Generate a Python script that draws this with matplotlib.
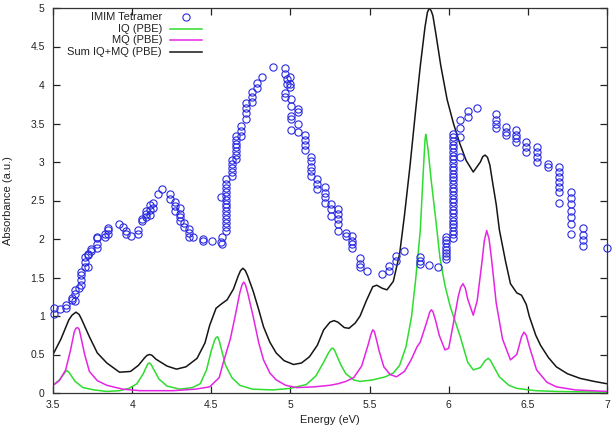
import matplotlib
matplotlib.use("Agg")
import matplotlib.pyplot as plt

plt.rcParams['font.family'] = ['Liberation Sans', 'DejaVu Sans']

# ---------------- data ----------------
# IQ (PBE) curve
iq_energy = [3.50, 3.54, 3.57, 3.58, 3.59, 3.60, 3.61, 3.64, 3.69, 3.76, 3.84, 3.92, 3.98,
             4.03, 4.07, 4.09, 4.10, 4.11, 4.12, 4.13, 4.17, 4.22, 4.30, 4.38, 4.43, 4.47,
             4.50, 4.52, 4.53, 4.54, 4.55, 4.56, 4.59, 4.63, 4.68, 4.76, 4.89, 5.00, 5.10,
             5.16, 5.21, 5.24, 5.26, 5.27, 5.28, 5.29, 5.32, 5.35, 5.40, 5.44, 5.52, 5.60,
             5.65, 5.69, 5.73, 5.765, 5.79, 5.82, 5.84, 5.85, 5.855, 5.86, 5.87, 5.89, 5.92,
             5.945, 5.976, 6.01, 6.07, 6.12, 6.155, 6.20, 6.23, 6.25, 6.265, 6.28, 6.32,
             6.38, 6.43, 6.55, 6.68, 7.00]
iq_abs = [0.10, 0.17, 0.25, 0.28, 0.29, 0.27, 0.24, 0.15, 0.07, 0.04, 0.02, 0.03, 0.06,
          0.12, 0.25, 0.34, 0.38, 0.39, 0.37, 0.33, 0.18, 0.09, 0.05, 0.07, 0.12, 0.30,
          0.55, 0.68, 0.72, 0.73, 0.68, 0.60, 0.36, 0.20, 0.10, 0.05, 0.04, 0.06, 0.11,
          0.22, 0.40, 0.52, 0.58, 0.58, 0.55, 0.50, 0.36, 0.25, 0.17, 0.15, 0.17, 0.21,
          0.26, 0.36, 0.60, 0.99, 1.45, 2.10, 2.90, 3.28, 3.36, 3.30, 3.15, 2.75, 2.22,
          1.75, 1.40, 1.12, 0.75, 0.40, 0.30, 0.33, 0.42, 0.45, 0.42, 0.36, 0.21,
          0.10, 0.06, 0.03, 0.02, 0.01]

# MQ (PBE) curve
mq_energy = [3.50, 3.54, 3.58, 3.61, 3.635, 3.645, 3.655, 3.665, 3.675, 3.70, 3.73, 3.78,
             3.84, 3.94, 4.05, 4.26, 4.40, 4.49, 4.55, 4.575, 4.62, 4.65, 4.68, 4.695,
             4.705, 4.715, 4.73, 4.765, 4.80, 4.83, 4.87, 4.91, 4.97, 5.04, 5.15, 5.25,
             5.30, 5.35, 5.40, 5.45, 5.49, 5.51, 5.52, 5.53, 5.545, 5.56, 5.59, 5.63, 5.67,
             5.72, 5.76, 5.80, 5.82, 5.85, 5.87, 5.88, 5.89, 5.90, 5.92, 5.94, 5.976,
             6.00, 6.03, 6.06, 6.075, 6.09, 6.105, 6.12, 6.155, 6.18, 6.21, 6.225, 6.24,
             6.255, 6.27, 6.30, 6.34, 6.39, 6.43, 6.46, 6.475, 6.49, 6.51, 6.555, 6.62,
             6.68, 6.80, 7.00]
mq_abs = [0.10, 0.16, 0.30, 0.55, 0.80, 0.84, 0.85, 0.83, 0.74, 0.50, 0.28, 0.16,
          0.10, 0.05, 0.03, 0.03, 0.05, 0.08, 0.20, 0.39, 0.70, 0.99, 1.30, 1.41,
          1.44, 1.41, 1.30, 0.99, 0.65, 0.43, 0.26, 0.17, 0.10, 0.07, 0.08, 0.10,
          0.12, 0.15, 0.20, 0.35, 0.62, 0.77, 0.82, 0.80, 0.68, 0.55, 0.34, 0.24, 0.21,
          0.28, 0.42, 0.60, 0.66, 0.85, 0.98, 1.05, 1.08, 1.06, 0.92, 0.75, 0.56,
          0.58, 0.91, 1.25, 1.37, 1.42, 1.36, 1.22, 1.01, 1.20, 1.70, 1.98, 2.11,
          2.00, 1.75, 1.17, 0.70, 0.43, 0.50, 0.73, 0.79, 0.75, 0.60, 0.30, 0.14,
          0.08, 0.04, 0.02]

# Sum IQ+MQ (PBE) curve
sum_energy = [3.50, 3.55, 3.60, 3.62, 3.645, 3.665, 3.68, 3.73, 3.78, 3.84, 3.92, 3.99,
              4.04, 4.08, 4.095, 4.11, 4.125, 4.15, 4.22, 4.28, 4.34, 4.41, 4.46, 4.49,
              4.53, 4.566, 4.60, 4.64, 4.67, 4.685, 4.70, 4.715, 4.73, 4.765, 4.80, 4.83,
              4.87, 4.91, 4.96, 5.02, 5.07, 5.12, 5.17, 5.21, 5.25, 5.275, 5.30, 5.34,
              5.37, 5.41, 5.44, 5.48, 5.52, 5.545, 5.58, 5.61, 5.65, 5.69, 5.72, 5.755,
              5.79, 5.82, 5.85, 5.865, 5.877, 5.89, 5.90, 5.92, 5.95, 5.99, 6.03, 6.07,
              6.11, 6.155, 6.20, 6.215, 6.23, 6.245, 6.26, 6.28, 6.30, 6.32, 6.36, 6.39,
              6.43, 6.46, 6.49, 6.51, 6.55, 6.58, 6.63, 6.68, 6.75, 6.83, 6.92, 7.00]
sum_abs = [0.50, 0.70, 0.95, 1.01, 1.05, 1.02, 0.96, 0.73, 0.52, 0.39, 0.27, 0.28,
           0.36, 0.46, 0.49, 0.50, 0.49, 0.44, 0.35, 0.31, 0.34, 0.45, 0.65, 0.88,
           1.10, 1.16, 1.21, 1.35, 1.52, 1.59, 1.62, 1.59, 1.52, 1.32, 1.08, 0.86,
           0.66, 0.52, 0.42, 0.37, 0.39, 0.47, 0.62, 0.82, 0.92, 0.94, 0.92, 0.85,
           0.84, 0.91, 1.00, 1.20, 1.38, 1.40, 1.36, 1.34, 1.45, 1.81, 2.30, 2.94,
           3.65, 4.24, 4.75, 4.94, 5.00, 4.96, 4.90, 4.65, 4.25, 3.81, 3.50, 3.24,
           3.02, 2.87, 3.00, 3.07, 3.09, 3.06, 2.96, 2.70, 2.45, 2.12, 1.70, 1.42,
           1.30, 1.27, 1.15, 0.99, 0.75, 0.62, 0.46, 0.34, 0.25, 0.19, 0.15, 0.12]

# IMIM Tetramer experimental points (energy, absorbance)
exp_energy = (
    [3.506] * 2 + [3.544] + [3.58] * 2 + [3.62] * 2 + [3.64] * 3 + [3.666] + [3.68] * 4 +
    [3.70] * 3 + [3.72] * 3 + [3.74] * 2 + [3.78] * 4 + [3.83] * 2 + [3.85] * 3 + [3.917] +
    [3.94] + [3.96] * 2 + [3.99] + [4.04] * 2 + [4.06] * 2 + [4.09] * 3 + [4.11] * 3 +
    [4.13] * 2 + [4.165] + [4.19] + [4.24] * 2 + [4.27] * 3 + [4.30] * 4 + [4.33] * 2 +
    [4.36] * 3 + [4.386] + [4.45] * 2 + [4.506] + [4.56] * 2 + [4.57] * 2 + [4.59] * 14 +
    [4.63] * 5 + [4.656] * 7 + [4.685] * 3 + [4.72] * 4 + [4.755] * 3 + [4.79] * 2 +
    [4.82] + [4.888] + [4.966] * 4 + [4.976] * 2 + [5.00] * 3 + [5.006] * 5 + [5.048] * 4 +
    [5.09] * 4 + [5.128] * 5 + [5.17] * 3 + [5.218] * 4 + [5.256] * 3 + [5.30] * 5 +
    [5.35] * 2 + [5.39] * 4 + [5.44] * 3 + [5.485] + [5.576] + [5.625] * 2 + [5.67] * 2 +
    [5.72] + [5.82] * 3 + [5.875] + [5.93] + [5.98] * 8 + [6.025] * 30 + [6.07] * 4 +
    [6.124] * 2 + [6.176] + [6.296] * 4 + [6.36] * 3 + [6.425] * 4 + [6.49] * 3 +
    [6.557] * 4 + [6.625] * 2 + [6.694] * 7 + [6.77] * 7 + [6.848] * 4 + [7.0]
)
exp_abs = (
    [1.10, 1.03] + [1.09] + [1.11, 1.14] + [1.21, 1.24] + [1.19, 1.29, 1.34] + [1.37] +
    [1.40, 1.47, 1.53, 1.57] + [1.63, 1.70, 1.76] + [1.79, 1.81, 1.64] + [1.84, 1.87] +
    [1.88, 1.94, 2.01, 2.03] + [2.03, 2.07] + [2.07, 2.12, 2.14] + [2.20] + [2.16] +
    [2.11, 2.06] + [2.04] + [2.07, 2.12] + [2.23, 2.26] + [2.29, 2.33, 2.37] +
    [2.44, 2.38, 2.31] + [2.47, 2.40] + [2.58] + [2.65] + [2.58, 2.52] + [2.48, 2.43, 2.37] +
    [2.40, 2.33, 2.28, 2.23] + [2.21, 2.16] + [2.13, 2.08, 2.03] + [2.02] + [2.00, 1.97] +
    [1.97] + [2.54, 1.96] + [2.02, 1.94] +
    [2.10, 2.16, 2.21, 2.26, 2.31, 2.36, 2.41, 2.46, 2.51, 2.56, 2.61, 2.66, 2.72, 2.78] +
    [2.82, 2.87, 2.92, 2.97, 3.03] + [3.04, 3.09, 3.14, 3.19, 3.24, 3.29, 3.34] +
    [3.34, 3.40, 3.47] + [3.56, 3.63, 3.70, 3.76] + [3.78, 3.85, 3.91] + [3.96, 4.02] +
    [4.10] + [4.24] + [4.22, 4.14, 3.89, 3.85] + [4.08, 4.01] + [4.10, 4.01, 3.97] +
    [3.82, 3.73, 3.60, 3.56, 3.41] + [3.69, 3.65, 3.50, 3.39] + [3.35, 3.29, 3.22, 3.16] +
    [3.07, 3.01, 2.94, 2.88, 2.82] + [2.78, 2.71, 2.65] + [2.68, 2.60, 2.54, 2.47] +
    [2.45, 2.39, 2.30] + [2.39, 2.32, 2.26, 2.19, 2.10] + [2.08, 2.04] +
    [2.04, 1.97, 1.94, 1.88] + [1.75, 1.68, 1.64] + [1.59] + [1.55] + [1.65, 1.58] +
    [1.78, 1.72] + [1.84] + [1.76, 1.72, 1.68] + [1.66] + [1.63] +
    [1.74, 1.78, 1.82, 1.86, 1.90, 1.95, 1.99, 2.03] +
    [2.01, 2.06, 2.10, 2.15, 2.20, 2.24, 2.29, 2.34, 2.38, 2.43, 2.48, 2.52, 2.57, 2.62,
     2.66, 2.71, 2.76, 2.80, 2.85, 2.90, 2.94, 2.99, 3.04, 3.08, 3.13, 3.18, 3.22, 3.27,
     3.32, 3.37] +
    [3.06, 3.33, 3.44, 3.55] + [3.66, 3.59] + [3.70] + [3.62, 3.55, 3.49, 3.44] +
    [3.46, 3.39, 3.35] + [3.42, 3.35, 3.31, 3.26] + [3.26, 3.20, 3.13] +
    [3.20, 3.13, 3.07, 3.00] + [2.98, 2.94] + [2.94, 2.87, 2.81, 2.74, 2.68, 2.61, 2.47] +
    [2.61, 2.53, 2.45, 2.37, 2.29, 2.20, 2.07] + [2.14, 2.05, 1.99, 1.91] + [1.88]
)

x_ticks = [3.5, 4, 4.5, 5, 5.5, 6, 6.5, 7]
x_tick_labels = ["3.5", "4", "4.5", "5", "5.5", "6", "6.5", "7"]
y_ticks = [0, 0.5, 1, 1.5, 2, 2.5, 3, 3.5, 4, 4.5, 5]
y_tick_labels = ["0", "0.5", "1", "1.5", "2", "2.5", "3", "3.5", "4", "4.5", "5"]
legend_labels = ["IMIM Tetramer", "IQ (PBE)", "MQ (PBE)", "Sum IQ+MQ (PBE)"]

# ---------------- figure ----------------
fig = plt.figure(figsize=(6.15, 4.26), dpi=100)
ax = fig.add_axes([53 / 615, 33 / 426, 554 / 615, 385 / 426])

blue = '#2a2ae0'
green = '#2fdc2f'
magenta = '#e425e4'
black = '#151515'
msize = 5.2

ax.plot(exp_energy, exp_abs, linestyle='none', marker='o', markersize=msize,
        markerfacecolor='none', markeredgecolor=blue, markeredgewidth=0.8,
        clip_on=False, zorder=3)
ax.plot(iq_energy, iq_abs, color=green, lw=1.1, zorder=2)
ax.plot(mq_energy, mq_abs, color=magenta, lw=1.1, zorder=2)
ax.plot(sum_energy, sum_abs, color=black, lw=1.1, zorder=2)

ax.set_xlim(3.5, 7)
ax.set_ylim(0, 5)
ax.set_xticks(x_ticks)
ax.set_xticklabels(x_tick_labels)
ax.set_yticks(y_ticks)
ax.set_yticklabels(y_tick_labels)
ax.tick_params(direction='in', length=5, width=0.9, top=True, right=True,
               labelsize=7.5, colors='#222222')
ax.tick_params(axis='x', pad=5)
ax.tick_params(axis='y', pad=6)
for s in ax.spines.values():
    s.set_linewidth(0.9)
    s.set_color('#333333')

ax.set_xlabel("Energy (eV)", fontsize=8, color='#222222')
ax.xaxis.set_label_coords(0.5, -0.058)
ax.set_ylabel("Absorbance (a.u.)", fontsize=8, color='#222222')
ax.yaxis.set_label_coords(-0.081, 0.5)
ax.yaxis.label.set_va('center')

# gnuplot-style legend (text right-aligned, sample to the right)
rows_y = [0.9774, 0.9462, 0.9169, 0.8865]
text_x = 0.1968
h0, h1 = 0.2112, 0.2690
styles = [dict(marker='o'), dict(color=green), dict(color=magenta), dict(color=black)]
for lab, yy, st in zip(legend_labels, rows_y, styles):
    ax.text(text_x, yy, lab, transform=ax.transAxes, ha='right', va='center',
            fontsize=8, color='#222222')
    if 'marker' in st:
        ax.plot([(h0 + h1) / 2], [yy], transform=ax.transAxes, linestyle='none',
                marker='o', markersize=msize, markerfacecolor='none',
                markeredgecolor=blue, markeredgewidth=0.8)
    else:
        ax.plot([h0, h1], [yy, yy], transform=ax.transAxes, lw=1.1, color=st['color'])

fig.savefig("out.png", dpi=100)
